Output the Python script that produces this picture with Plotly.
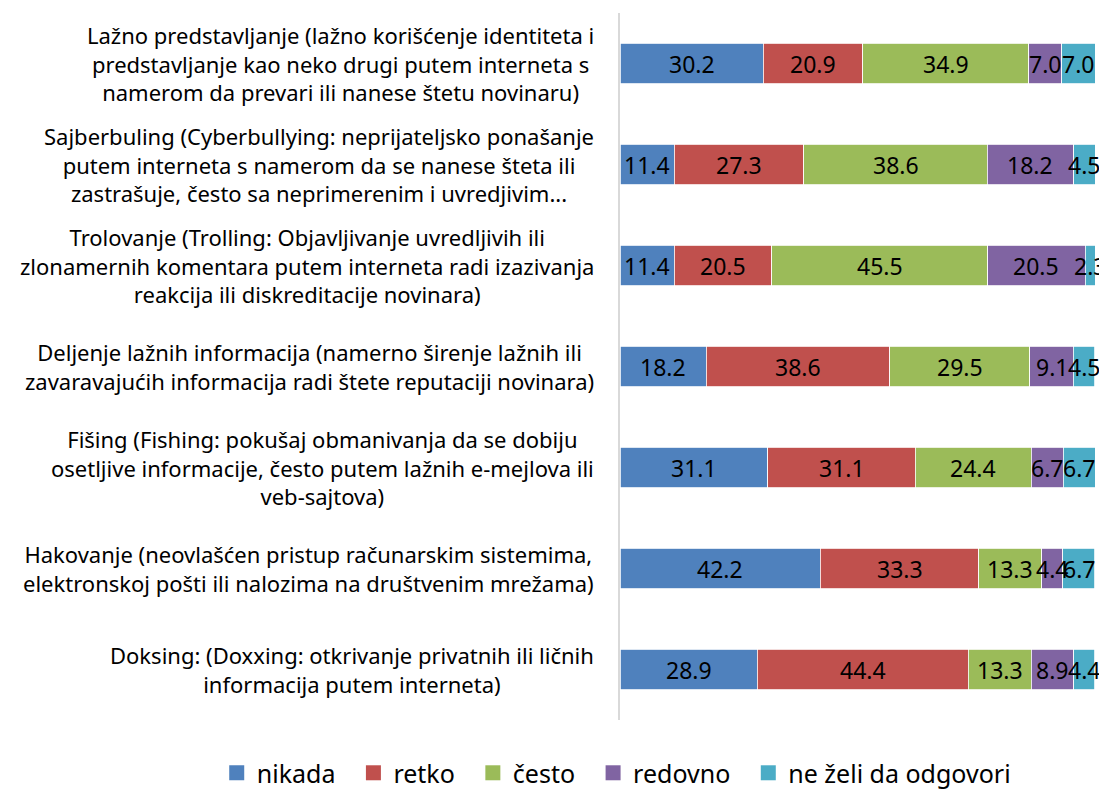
import plotly.graph_objects as go

categories = [
    "Lažno predstavljanje (lažno korišćenje identiteta i<br>predstavljanje kao neko drugi putem interneta s<br>namerom da prevari ili nanese štetu novinaru)",
    "Sajberbuling (Cyberbullying: neprijateljsko ponašanje<br>putem interneta s namerom da se nanese šteta ili<br>zastrašuje, često sa neprimerenim i uvredjivim...",
    "Trolovanje (Trolling: Objavljivanje uvredljivih ili<br>zlonamernih komentara putem interneta radi izazivanja<br>reakcija ili diskreditacije novinara)",
    "Deljenje lažnih informacija (namerno širenje lažnih ili<br>zavaravajućih informacija radi štete reputaciji novinara)",
    "Fišing (Fishing: pokušaj obmanivanja da se dobiju<br>osetljive informacije, često putem lažnih e-mejlova ili<br>veb-sajtova)",
    "Hakovanje (neovlašćen pristup računarskim sistemima,<br>elektronskoj pošti ili nalozima na društvenim mrežama)",
    "Doksing: (Doxxing: otkrivanje privatnih ili ličnih<br>informacija putem interneta)",
]
series_names = ["nikada", "retko", "često", "redovno", "ne želi da odgovori"]
nikada = [30.2, 11.4, 11.4, 18.2, 31.1, 42.2, 28.9]
retko = [20.9, 27.3, 20.5, 38.6, 31.1, 33.3, 44.4]
cesto = [34.9, 38.6, 45.5, 29.5, 24.4, 13.3, 13.3]
redovno = [7.0, 18.2, 20.5, 9.1, 6.7, 4.4, 8.9]
ne_zeli = [7.0, 4.5, 2.3, 4.5, 6.7, 6.7, 4.4]
colors = ["#4F81BD", "#C0504D", "#9BBB59", "#8064A2", "#4BACC6"]

series = [nikada, retko, cesto, redovno, ne_zeli]
ids = [f"c{i}" for i in range(len(categories))]

FONT = "Noto Sans"
NBSP = "\u00a0"
fig = go.Figure()
for name, vals, col in zip(series_names, series, colors):
    fig.add_trace(go.Bar(
        y=ids, x=vals, name=name, orientation="h",
        marker=dict(color=col, line=dict(color="#FFFFFF", width=0.8)),
        width=0.4, legendgroup=name, showlegend=False,
        hoverinfo="x",
    ))
    # legend entry with a larger square swatch
    fig.add_trace(go.Scatter(
        x=[None], y=[None], mode="markers", name=name + NBSP * 2,
        legendgroup=name, showlegend=True,
        marker=dict(symbol="square", size=15, color=col),
    ))

annotations = []
# value labels at segment midpoints
for i in range(len(categories)):
    cum = 0.0
    for vals in series:
        v = vals[i]
        annotations.append(dict(
            x=cum + v / 2, y=ids[i], xref="x", yref="y",
            text=f"{v:.1f}", showarrow=False,
            font=dict(family=FONT, size=23, color="#000000"),
            xanchor="center", yanchor="middle",
        ))
        cum += v
# category labels
for i, c in enumerate(categories):
    annotations.append(dict(
        x=0, y=ids[i], xref="paper", yref="y",
        text=c, showarrow=False, align="center",
        xanchor="right", yanchor="middle", xshift=-24,
        font=dict(family=FONT, size=22, color="#000000"),
    ))

# page body has an 8px default margin, so the figure is sized/shifted to compensate
fig.update_layout(
    width=1099, height=782,
    barmode="stack",
    bargap=0.6,
    plot_bgcolor="#FFFFFF", paper_bgcolor="#FFFFFF",
    margin=dict(l=612, r=12, t=5, b=70, autoexpand=False),
    font=dict(family=FONT, size=20, color="#000000"),
    xaxis=dict(range=[0, 100], visible=False, showgrid=False),
    yaxis=dict(categoryorder="array", categoryarray=ids, autorange="reversed",
               showticklabels=False, showgrid=False, zeroline=False,
               showline=True, linecolor="#D9D9D9", linewidth=2, ticks=""),
    legend=dict(orientation="h", x=-0.849, xanchor="left",
                y=-0.075, yanchor="middle",
                font=dict(family=FONT, size=25, color="#000000"),
                itemwidth=30, tracegroupgap=0, traceorder="normal",
                itemsizing="trace"),
    annotations=annotations,
    showlegend=True,
)

fig.write_html("out.html")
